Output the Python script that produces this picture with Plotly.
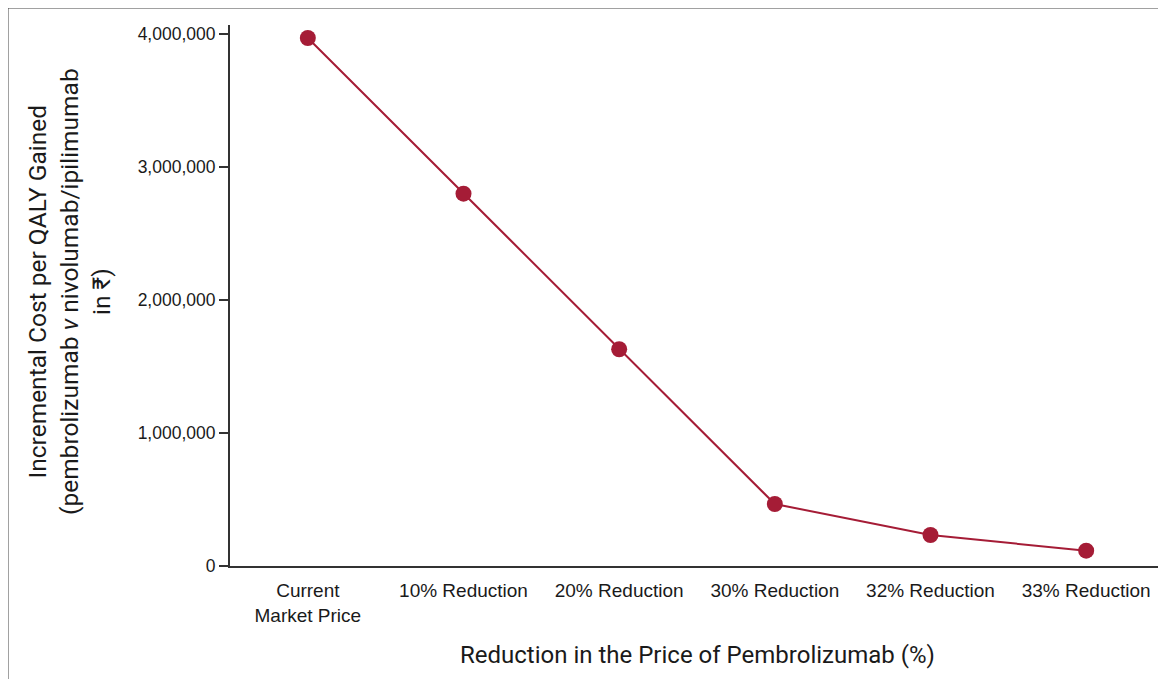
import plotly.graph_objects as go

categories = ["Current<br>Market Price", "10% Reduction", "20% Reduction",
              "30% Reduction", "32% Reduction", "33% Reduction"]
icer_values = [3970000, 2800000, 1630000, 466000, 233000, 115000]
y_tick_values = [0, 1000000, 2000000, 3000000, 4000000]
y_tick_labels = ["0", "1,000,000", "2,000,000", "3,000,000", "4,000,000"]

OFF = 8  # page body margin
W, H = 1158, 671
ML, MR, MT, MB = 222, 2, 17, 113
PW, PH = W - ML - MR, H - MT - MB

def sx(p):  # screen px -> paper x
    return (p - OFF - ML) / PW

def sy(p):  # screen px -> paper y
    return (H - MB - (p - OFF)) / PH

red = "#A51C36"
tick_font = "Liberation Sans, Arial, sans-serif"
title_font = "Roboto, Liberation Sans, sans-serif"

fig = go.Figure()
fig.add_trace(go.Scatter(
    x=list(range(len(categories))), y=icer_values,
    mode="lines+markers",
    line=dict(color=red, width=2),
    marker=dict(color=red, size=16),
    showlegend=False, cliponaxis=False,
))

fig.update_layout(
    width=W, height=H,
    margin=dict(l=ML, r=MR, t=MT, b=MB),
    plot_bgcolor="white", paper_bgcolor="white",
    xaxis=dict(
        range=[-0.5, 5.5],
        tickmode="array", tickvals=list(range(len(categories))), ticktext=categories,
        showgrid=False, zeroline=False,
        showline=True, linecolor="#333333", linewidth=2,
        ticks="", ticklabelstandoff=6,
        tickfont=dict(family=tick_font, size=19, color="#1a1a1a"),
    ),
    yaxis=dict(
        range=[0, 4068000],
        tickmode="array", tickvals=y_tick_values, ticktext=y_tick_labels,
        showgrid=False, zeroline=False,
        showline=True, linecolor="#333333", linewidth=2,
        ticks="outside", ticklen=9, tickwidth=1.5, tickcolor="#333333",
        tickfont=dict(family=tick_font, size=17.5, color="#1a1a1a"),
    ),
    annotations=[
        dict(
            text="Incremental Cost per QALY Gained<br>(pembrolizumab <i>v</i> nivolumab/ipilimumab<br>in ₹)",
            xref="paper", yref="paper", x=sx(69), y=sy(292),
            xanchor="center", yanchor="middle", textangle=-90, showarrow=False,
            font=dict(family=title_font, size=24.5, color="#1a1a1a"),
        ),
        dict(
            text="Reduction in the Price of Pembrolizumab (%)",
            xref="paper", yref="paper", x=sx(697), y=sy(655),
            xanchor="center", yanchor="middle", showarrow=False,
            font=dict(family=title_font, size=24, color="#1a1a1a"),
        ),
    ],
    shapes=[
        dict(type="line", xref="paper", yref="paper",
             x0=sx(7), x1=sx(7), y0=sy(7), y1=sy(H + 20),
             line=dict(color="#444444", width=3)),
        dict(type="line", xref="paper", yref="paper",
             x0=sx(6), x1=sx(W + 20), y0=sy(7), y1=sy(7),
             line=dict(color="#444444", width=3)),
    ],
)

fig.write_html("out.html")
